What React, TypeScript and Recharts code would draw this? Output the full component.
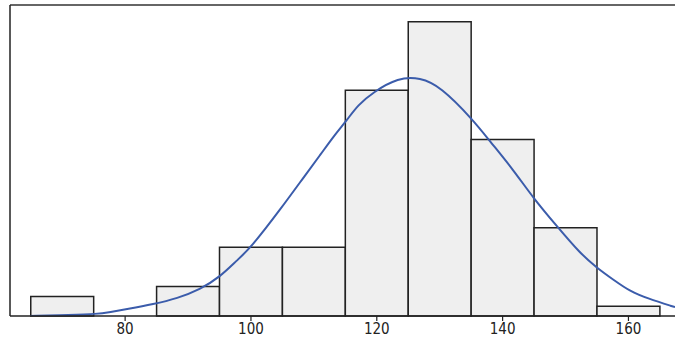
import React from 'react';
import {
  ComposedChart,
  Line,
  XAxis,
  YAxis,
  ReferenceArea
} from 'recharts';

// histogram bins (value ranges) and their counts
const binStarts = [65, 75, 85, 95, 105, 115, 125, 135, 145, 155];
const binEnds = [75, 85, 95, 105, 115, 125, 135, 145, 155, 165];
const binCounts = [2, 0, 3, 7, 7, 23, 30, 18, 9, 1];

// fitted curve
const curveX = [64.9, 71.3, 75.5, 77.6, 80.3, 84.5, 88.3, 91.9, 95.1, 97.8, 99.9, 104.6, 108.9, 111.0, 113.1, 115.3, 117.0, 119.4, 123.4, 126.9, 130.1, 135.3, 138.0, 141.7, 144.9, 148.7, 152.3, 155.0, 157.6, 160.3, 163.0, 167.4];
const curveY = [0, 0.1, 0.2, 0.4, 0.7, 1.2, 1.8, 2.7, 4.0, 5.7, 6.9, 10.8, 14.6, 16.4, 18.3, 20.0, 21.5, 22.8, 24.3, 24.3, 23.4, 20.0, 17.8, 14.9, 12.0, 9.1, 6.4, 4.9, 3.7, 2.5, 1.8, 0.9];

const xTicks = [80, 100, 120, 140, 160];

const X_DOMAIN: [number, number] = [61.7, 167.4];
const Y_DOMAIN: [number, number] = [0, 31.7];

const curveData = curveX.map((x, i) => ({ x, y: curveY[i] }));

const FONT = '"DejaVu Sans Condensed", "DejaVu Sans", sans-serif';

export default function App() {
  return (
    <div style={{ position: 'absolute', left: 0, top: 0, width: 675, height: 345, background: '#fff' }}>
      <ComposedChart
        width={675}
        height={345}
        data={curveData}
        margin={{ top: 4, right: 0, left: 9, bottom: 0 }}
      >
        <XAxis
          dataKey="x"
          type="number"
          domain={X_DOMAIN}
          allowDataOverflow
          ticks={xTicks}
          height={29}
          axisLine={{ stroke: '#222', strokeWidth: 1.5 }}
          tickLine={{ stroke: '#222', strokeWidth: 1.2 }}
          tickSize={5}
          tick={{ fill: '#222', fontSize: 15, fontFamily: FONT }}
        />
        <XAxis
          xAxisId="top"
          orientation="top"
          type="number"
          domain={X_DOMAIN}
          allowDataOverflow
          height={1}
          tick={false}
          tickLine={false}
          axisLine={{ stroke: '#333', strokeWidth: 1.5 }}
        />
        <YAxis
          type="number"
          domain={Y_DOMAIN}
          allowDataOverflow
          width={1}
          tick={false}
          tickLine={false}
          axisLine={{ stroke: '#222', strokeWidth: 1.5 }}
        />

        {binCounts.map((c, i) =>
          c > 0 ? (
            <ReferenceArea
              key={i}
              x1={binStarts[i]}
              x2={binEnds[i]}
              y1={0}
              y2={c}
              fill="#efefef"
              fillOpacity={1}
              stroke="#222"
              strokeWidth={1.5}
            />
          ) : null
        )}

        <Line
          type="basis"
          dataKey="y"
          stroke="#3b5cab"
          strokeWidth={2}
          dot={false}
          isAnimationActive={false}
        />
      </ComposedChart>
    </div>
  );
}
